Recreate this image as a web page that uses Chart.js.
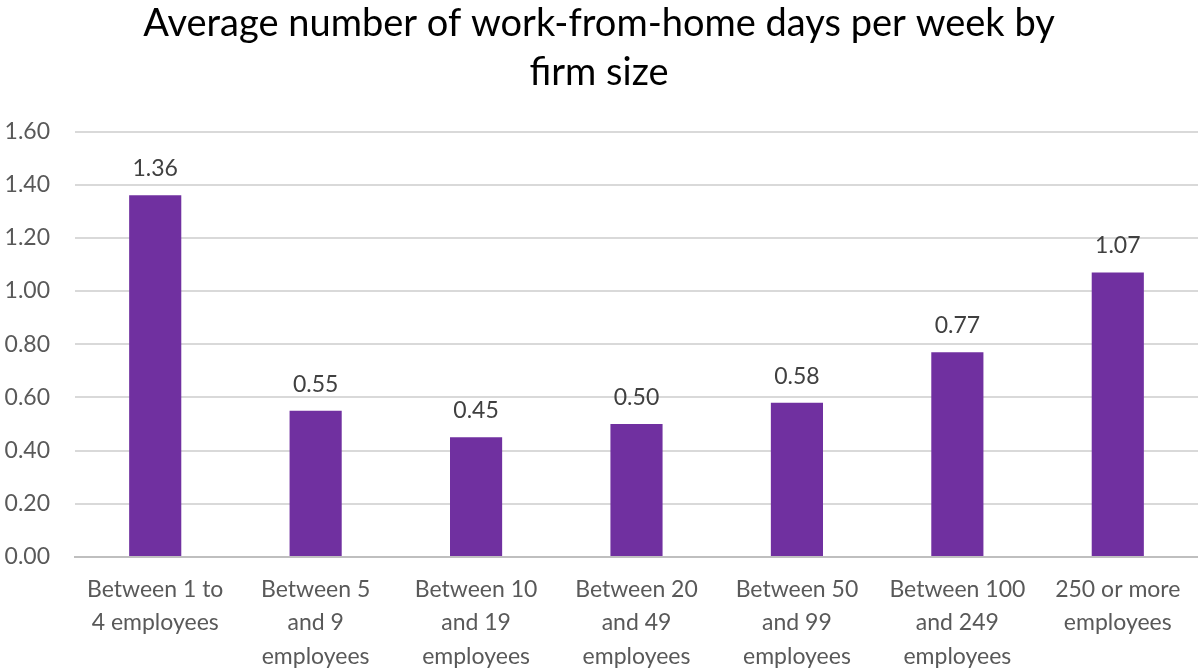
<!DOCTYPE html>
<html>
<head>
<meta charset="utf-8">
<script src="https://cdn.jsdelivr.net/npm/chart.js@4/dist/chart.umd.min.js"></script>
<style>
  html, body { margin: 0; padding: 0; background: #fff; }
  #wrap { width: 1198px; height: 671px; position: relative; }
</style>
</head>
<body>
<div id="wrap"><canvas id="wfhChart"></canvas></div>
<script>
/* ---------- Data ---------- */
const firmSizes = [
    ["Between 1 to", "4 employees"],
    ["Between 5", "and 9", "employees"],
    ["Between 10", "and 19", "employees"],
    ["Between 20", "and 49", "employees"],
    ["Between 50", "and 99", "employees"],
    ["Between 100", "and 249", "employees"],
    ["250 or more", "employees"]
];
const wfhDays = [1.36, 0.55, 0.45, 0.50, 0.58, 0.77, 1.07];
const yTicks = [0, 0.2, 0.4, 0.6, 0.8, 1.0, 1.2, 1.4, 1.6];

const FONT = "Lato, 'Liberation Sans', sans-serif";
const GREY = "#595959";

/* ---------- Value labels above bars ---------- */
const barLabels = {
    id: "barLabels",
    afterDatasetsDraw(chart) {
        const ctx = chart.ctx;
        const meta = chart.getDatasetMeta(0);
        ctx.save();
        ctx.font = "23px " + FONT;
        ctx.fillStyle = "#404040";
        ctx.textAlign = "center";
        ctx.textBaseline = "bottom";
        meta.data.forEach(function (bar, i) {
            ctx.fillText(wfhDays[i].toFixed(2), bar.x, bar.y - 15);
        });
        ctx.restore();
    }
};

new Chart(document.getElementById("wfhChart").getContext("2d"), {
    type: "bar",
    data: {
        labels: firmSizes,
        datasets: [{
            data: wfhDays,
            backgroundColor: "#7030a0",
            categoryPercentage: 1,
            barPercentage: 0.325
        }]
    },
    options: {
        responsive: true,
        maintainAspectRatio: false,
        animation: false,
        layout: { padding: 0 },
        plugins: {
            legend: { display: false },
            tooltip: { enabled: false },
            title: {
                display: true,
                text: ["Average number of work-from-home days per week by", "firm size"],
                color: "#000",
                font: { family: FONT, size: 38, weight: "normal", lineHeight: 1.27 },
                padding: { top: 0, bottom: 35 }
            }
        },
        scales: {
            x: {
                grid: { display: false, drawTicks: false },
                border: { color: "#bfbfbf", width: 2 },
                ticks: {
                    color: GREY,
                    font: { family: FONT, size: 23, lineHeight: 1.45 },
                    padding: 16,
                    maxRotation: 0,
                    autoSkip: false
                },
                afterFit(scale) { scale.height = 114; }
            },
            y: {
                min: 0,
                max: 1.6,
                afterBuildTicks(scale) { scale.ticks = yTicks.map(function (v) { return { value: v }; }); },
                grid: { color: "#d9d9d9", lineWidth: 2, drawTicks: false },
                border: { display: false },
                ticks: {
                    color: GREY,
                    font: { family: FONT, size: 23 },
                    padding: 25,
                    callback: function (v) { return Number(v).toFixed(2); }
                },
                afterFit(scale) { scale.width = 75; }
            }
        }
    },
    plugins: [barLabels]
});
</script>
</body>
</html>
